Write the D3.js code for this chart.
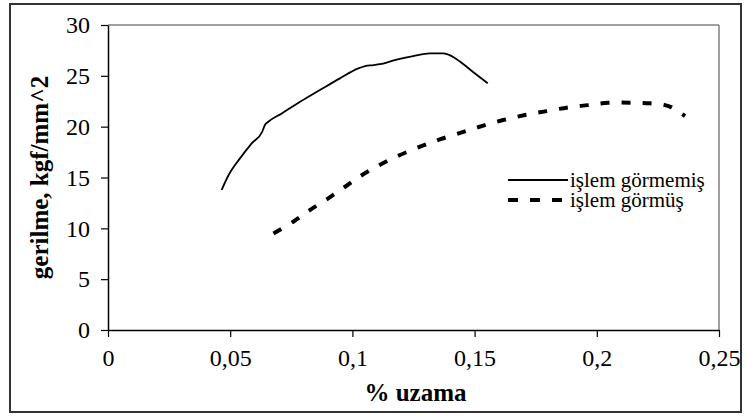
<!DOCTYPE html>
<html>
<head>
<meta charset="utf-8">
<script src="https://cdn.jsdelivr.net/npm/d3@7"></script>
</head>
<body style="margin:0;background:#fff">
<svg id="chart" width="746" height="417" style="display:block"></svg>
<script>
// ---- data ----
const seriesNames = ["işlem görmemiş", "işlem görmüş"];
const untreatedX = [0.0465, 0.0492, 0.054, 0.0588, 0.0631, 0.0642, 0.0656, 0.0711, 0.0786, 0.0867, 0.0949, 0.1024, 0.1052, 0.1086, 0.1113, 0.1181, 0.1249, 0.1317, 0.1372, 0.1406, 0.144, 0.1495, 0.1554];
const untreatedY = [13.77, 15.17, 16.88, 18.36, 19.5, 20.16, 20.48, 21.3, 22.45, 23.6, 24.75, 25.73, 25.96, 26.06, 26.15, 26.6, 26.94, 27.2, 27.2, 26.94, 26.4, 25.36, 24.27];
const treatedX = [0.0677, 0.0758, 0.0826, 0.0901, 0.097, 0.1017, 0.1086, 0.1175, 0.1277, 0.1358, 0.1447, 0.1529, 0.1617, 0.1706, 0.1795, 0.1883, 0.1965, 0.2047, 0.2136, 0.2218, 0.2279, 0.2306, 0.2361];
const treatedY = [9.5, 10.65, 11.8, 12.95, 14.09, 14.9, 15.9, 17.0, 18.03, 18.75, 19.43, 20.06, 20.65, 21.14, 21.53, 21.9, 22.12, 22.35, 22.35, 22.3, 22.12, 21.9, 21.04];
const xTicks = [0, 0.05, 0.1, 0.15, 0.2, 0.25];
const xTickLabels = ["0", "0,05", "0,1", "0,15", "0,2", "0,25"];
const yTicks = [0, 5, 10, 15, 20, 25, 30];
const xTitle = "% uzama";
const yTitle = "gerilme, kgf/mm^2";

// ---- layout ----
const FONT = "'Liberation Serif'";
const svg = d3.select("#chart");
const L = 108, R = 719, T = 25, B = 330;
const x = d3.scaleLinear().domain([0, 0.25]).range([L, R]);
const y = d3.scaleLinear().domain([0, 30]).range([B, T]);

// outer border
svg.append("rect").attr("x", 10).attr("y", 4).attr("width", 731).attr("height", 408)
  .attr("fill", "none").attr("stroke", "#333").attr("stroke-width", 2);

// plot frame (gray top & right)
svg.append("line").attr("x1", L).attr("x2", R).attr("y1", T).attr("y2", T)
  .attr("stroke", "#808080").attr("stroke-width", 1.5);
svg.append("line").attr("x1", R).attr("x2", R).attr("y1", T).attr("y2", B)
  .attr("stroke", "#808080").attr("stroke-width", 1.5);

// axes
const xAxis = d3.axisBottom(x).tickValues(xTicks)
  .tickFormat((d, i) => xTickLabels[i]).tickSize(7).tickSizeOuter(0).tickPadding(12);
const gx = svg.append("g").attr("transform", `translate(0,${B})`).call(xAxis);
gx.attr("font-family", FONT).attr("font-size", 24);
gx.select(".domain").attr("stroke", "#000").attr("stroke-width", 1.5);
gx.selectAll(".tick line").attr("stroke", "#000").attr("stroke-width", 1.2);
gx.selectAll(".tick text").attr("font-family", FONT).attr("font-size", 24).attr("fill", "#000");

const yAxis = d3.axisLeft(y).tickValues(yTicks).tickSize(7).tickSizeOuter(0).tickPadding(11);
const gy = svg.append("g").attr("transform", `translate(${L},0)`).call(yAxis);
gy.attr("font-family", FONT).attr("font-size", 24);
gy.select(".domain").attr("stroke", "#000").attr("stroke-width", 1.5);
gy.selectAll(".tick line").attr("stroke", "#000").attr("stroke-width", 1.2);
gy.selectAll(".tick text").attr("font-family", FONT).attr("font-size", 24).attr("fill", "#000");

// titles
svg.append("text").attr("x", (L + R) / 2 + 2).attr("y", 401).attr("text-anchor", "middle")
  .attr("font-family", FONT).attr("font-size", 25).attr("font-weight", "bold").text(xTitle);
svg.append("text").attr("transform", `translate(48,${(T + B) / 2}) rotate(-90)`)
  .attr("font-family", FONT).attr("text-anchor", "middle").attr("font-size", 25).attr("font-weight", "bold").text(yTitle);

// lines
const untreated = untreatedX.map((v, i) => [v, untreatedY[i]]);
const treated = treatedX.map((v, i) => [v, treatedY[i]]);
svg.append("path").datum(untreated)
  .attr("d", d3.line().x(d => x(d[0])).y(d => y(d[1])).curve(d3.curveMonotoneX))
  .attr("fill", "none").attr("stroke", "#000").attr("stroke-width", 1.8);
svg.append("path").datum(treated)
  .attr("d", d3.line().x(d => x(d[0])).y(d => y(d[1])).curve(d3.curveCatmullRom))
  .attr("fill", "none").attr("stroke", "#000").attr("stroke-width", 4).attr("stroke-dasharray", "9,12");

// legend
const lg = svg.append("g");
const rows = [{ name: seriesNames[0], dash: null, w: 1.8, y: 180 }, { name: seriesNames[1], dash: "10,12", w: 4, y: 200 }];
rows.forEach(r => {
  lg.append("line").attr("x1", 508).attr("x2", 568).attr("y1", r.y).attr("y2", r.y)
    .attr("stroke", "#000").attr("stroke-width", r.w).attr("stroke-dasharray", r.dash);
  lg.append("text").attr("x", 570).attr("y", r.y + 7).attr("font-family", FONT).attr("font-size", 21).text(r.name);
});
</script>
</body>
</html>
